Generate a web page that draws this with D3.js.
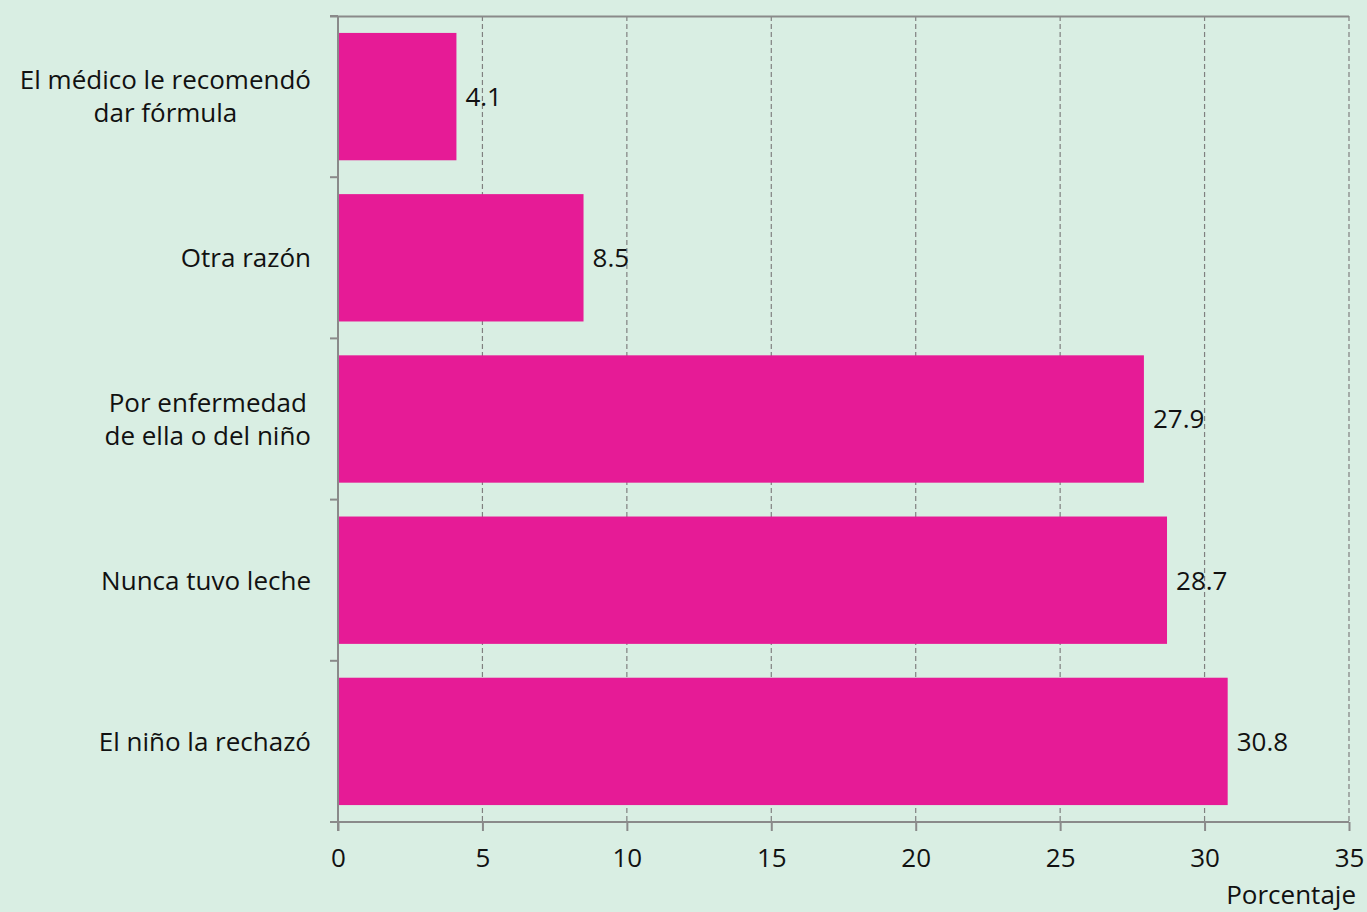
<!DOCTYPE html>
<html><head><meta charset="utf-8">
<script src="https://cdn.jsdelivr.net/npm/d3@7"></script>
<style>
html,body{margin:0;padding:0;background:#D9EEE3;}
svg{display:block;}
text{font-family:"Open Sans","Noto Sans",sans-serif;fill:#111;}
</style></head>
<body><svg id="c" width="1367" height="912"></svg>
<script>
const categories = [["El médico le recomendó","dar fórmula"],["Otra razón"],["Por enfermedad","de ella o del niño"],["Nunca tuvo leche"],["El niño la rechazó"]];
const values = [4.1, 8.5, 27.9, 28.7, 30.8];
const valueLabels = ["4.1","8.5","27.9","28.7","30.8"];
const xTicks = [0,5,10,15,20,25,30,35];
const xTitle = "Porcentaje";

(function(){
const svg = d3.select("#c");
const W=1367,H=912;
svg.append("rect").attr("width",W).attr("height",H).attr("fill","#D9EEE3");
const pL=338,pR=1349,pT=16,pB=822;
const FS="26px";
const x = d3.scaleLinear().domain([0,35]).range([pL,pR]);
const y = d3.scaleBand().domain(d3.range(categories.length)).range([pT,pB]).paddingInner(0.21).paddingOuter(0.105);
const g = svg.append("g");
const axisColor="#8a8a8a";

// gridlines
g.selectAll("line.grid").data(xTicks.filter(t=>t>0)).enter().append("line")
 .attr("x1",d=>x(d)).attr("x2",d=>x(d)).attr("y1",pT).attr("y2",pB)
 .attr("stroke","#808080").attr("stroke-width",1.2).attr("stroke-dasharray","5,3");

// top border
g.append("line").attr("x1",pL-8).attr("x2",pR).attr("y1",pT+0.5).attr("y2",pT+0.5).attr("stroke",axisColor).attr("stroke-width",2);

// bars
g.selectAll("rect.bar").data(values).enter().append("rect")
 .attr("x",x(0)).attr("y",(d,i)=>y(i)).attr("width",d=>x(d)-x(0)).attr("height",y.bandwidth())
 .attr("fill","#E61B96");

// value labels
g.selectAll("text.val").data(values).enter().append("text")
 .attr("x",d=>x(d)+9).attr("y",(d,i)=>y(i)+y.bandwidth()/2).attr("dy","0.36em")
 .style("font-size",FS).text((d,i)=>valueLabels[i]);

// y axis
const band = (pB-pT)/categories.length;
g.append("line").attr("x1",pL).attr("x2",pL).attr("y1",pT).attr("y2",pB+9).attr("stroke",axisColor).attr("stroke-width",2);
g.selectAll("line.yt").data(d3.range(categories.length+1)).enter().append("line")
 .attr("x1",pL-8).attr("x2",pL).attr("y1",i=>pT+i*band).attr("y2",i=>pT+i*band).attr("stroke",axisColor).attr("stroke-width",2);

// x axis
const xa = g.append("g").attr("transform",`translate(0,${pB})`)
 .call(d3.axisBottom(x).tickValues(xTicks).tickSize(9).tickFormat(d3.format("d")));
xa.select(".domain").attr("stroke",axisColor).attr("stroke-width",2).attr("d",`M${pL-8},0H${pR}`);
xa.selectAll(".tick line").attr("stroke",axisColor).attr("stroke-width",2);
xa.selectAll(".tick text").attr("y",45).attr("dy","0").style("font-size",FS).attr("fill","#111").style("font-family","'Open Sans','Noto Sans',sans-serif");

// category labels (multi-line blocks centred on their longest line, right edge at 311)
categories.forEach((lines,i)=>{
  const cy = y(i)+y.bandwidth()/2;
  const lh = 33;
  const t = g.append("text").attr("text-anchor","middle").style("font-size",FS);
  const sp = lines.map((ln,j)=>t.append("tspan").attr("x",0).attr("y",cy+(j-(lines.length-1)/2)*lh).attr("dy","0.36em").text(ln));
  const maxW = d3.max(sp, s=>s.node().getComputedTextLength());
  sp.forEach(s=>s.attr("x",311-maxW/2));
});

// x title
g.append("text").attr("x",1356).attr("y",904).attr("text-anchor","end").style("font-size",FS).text(xTitle);
})();
</script></body></html>
